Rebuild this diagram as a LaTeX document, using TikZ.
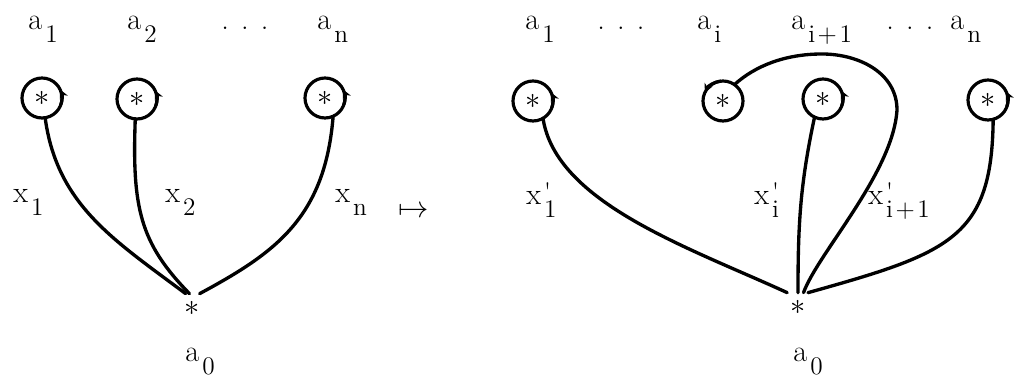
\documentclass[tikz,border=0pt]{standalone}
\usetikzlibrary{arrows.meta}
\tikzset{
  lbl/.style={font=\LARGE, inner sep=0pt, anchor=base west},
  site/.style={circle, draw, line width=1.8pt, minimum size=0.8cm,
               inner sep=0pt, outer sep=0pt, font=\LARGE},
  root/.style={inner sep=0pt, minimum size=0.56cm, font=\LARGE},
  wire/.style={line width=1.9pt, line cap=round},
  turn/.style={line width=1.8pt, -{Stealth[length=5pt,width=5pt]}},
}
\newcommand{\lblsub}[2]{#1\kern.1em\raisebox{-.42em}{\Large #2}}
\newcommand{\lblprime}[1]{x\kern.1em\raisebox{-.42em}{\Large\rlap{\raisebox{.68em}{\textquotesingle}}#1}}
\newcommand{\lbldots}{.\kern.4em.\kern.4em.}

\begin{document}
\begin{tikzpicture}[x=0.02cm, y=0.02cm]
  \useasboundingbox (0,0) rectangle (1032,378);

  % left: a_1 ... a_n hanging from a_0
  \node[site] (c1) at (42,280)  {$\ast$};
  \node[site] (c2) at (137,279) {$\ast$};
  \node[site] (cn) at (325,280) {$\ast$};
  \node[root] (s0) at (192,70)  {$\ast$};

  \node[lbl] (la1) at (28,348)  {\lblsub{a}{1}};
  \node[lbl] (la2) at (127,348) {\lblsub{a}{2}};
  \node[lbl, anchor=base] (ldots) at (245,348) {\lbldots};
  \node[lbl] (lan) at (317,348) {\lblsub{a}{n}};
  \node[lbl] (la0) at (185,16)  {\lblsub{a}{0}};

  \node[lbl] (lx1) at (13,175)  {\lblsub{x}{1}};
  \node[lbl] (lx2) at (165,175) {\lblsub{x}{2}};
  \node[lbl] (lxn) at (335,175) {\lblsub{x}{n}};

  \draw[wire] (c1.-81) .. controls (57,173) and (114,138) .. (s0.114);
  \draw[wire] (c2.-95) .. controls (132,170) and (140,135) .. (s0.100);
  \draw[wire] (cn.-66) .. controls (325,160) and (275,125) .. (s0.62);
  \foreach \c in {c1,c2,cn}
    \draw[turn] (\c.-20) arc (-20:25:20);

  \node[font=\LARGE] (maps) at (414,166) {$\mapsto$};

  % right: the loop of x_{i+1} is moved onto a_i
  \node[site] (d1) at (533,277) {$\ast$};
  \node[site] (di) at (723,277) {$\ast$};
  \node[site] (dj) at (823,279) {$\ast$};
  \node[site] (dn) at (988,278) {$\ast$};
  \node[root] (s1) at (798,71)  {$\ast$};

  \node[lbl] (ra1) at (525,348) {\lblsub{a}{1}};
  \node[lbl, anchor=base] (rdots1) at (621,348) {\lbldots};
  \node[lbl] (rai) at (697,348) {\lblsub{a}{i}};
  \node[lbl] (raj) at (791,348) {\lblsub{a}{i\kern.1em+\kern.1em1}};
  \node[lbl, anchor=base] (rdots2) at (910,348) {\lbldots};
  \node[lbl] (ran) at (950,348) {\lblsub{a}{n}};
  \node[lbl] (ra0) at (793,16)  {\lblsub{a}{0}};

  \node[lbl] (rx1) at (526,173) {\lblprime{1}};
  \node[lbl] (rxi) at (754,173) {\lblprime{i}};
  \node[lbl] (rxj) at (868,173) {\lblprime{i\kern.1em+\kern.1em1}};

  \draw[wire] (d1.-60) .. controls (556,175) and (690,130) .. (s1.127);
  \draw[wire] (dj.-115) .. controls (800,193) and (798,153) .. (s1.90);
  \draw[wire] (dn.-75) .. controls (992,140) and (950,125) .. (s1.55);
  \draw[wire] (s1.69) .. controls (818,125) and (893,205) .. (897,268)
    .. controls (897,305) and (859,324) .. (822,324)
    .. controls (785,324) and (755,312) .. (di.55);
  \foreach \c in {d1,dj,dn}
    \draw[turn] (\c.-20) arc (-20:25:20);
  \draw[turn] (di.95) arc (95:155:20);
\end{tikzpicture}
\end{document}
